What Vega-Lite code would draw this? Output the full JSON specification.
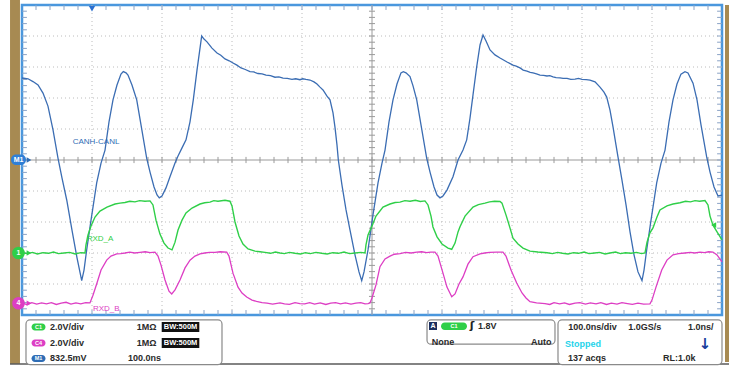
{
  "$schema": "https://vega.github.io/schema/vega-lite/v6.json",
  "width": 700,
  "height": 310,
  "autosize": {"type": "none"},
  "padding": {"left": 22, "top": 5, "right": 18, "bottom": 64},
  "background": "white",
  "config": {"view": {"stroke": "#4a97dd", "strokeWidth": 2.5}, "text": {"font": "Liberation Sans"}},
  "datasets": {
    "frame": [{"t": -17.1, "t2": -2.9, "v": 5.2, "v2": -6.58}, {"t": 1004.3, "t2": 1010, "v": 5.0, "v2": -6.52}],
    "boxes": [{"t": 5.7, "t2": 285.7, "v": -5.16, "v2": -6.6}, {"t": 578.6, "t2": 761.4, "v": -5.16, "v2": -5.94}, {"t": 765.7, "t2": 1000, "v": -5.16, "v2": -6.6}],
    "gridx": [{"t": 100}, {"t": 200}, {"t": 300}, {"t": 400}, {"t": 600}, {"t": 700}, {"t": 800}, {"t": 900}],
    "gridy": [{"v": -4}, {"v": -3}, {"v": -2}, {"v": -1}, {"v": 1}, {"v": 2}, {"v": 3}, {"v": 4}],
    "xt": [{"t":20},{"t":40},{"t":60},{"t":80},{"t":100},{"t":120},{"t":140},{"t":160},{"t":180},{"t":200},{"t":220},{"t":240},{"t":260},{"t":280},{"t":300},{"t":320},{"t":340},{"t":360},{"t":380},{"t":400},{"t":420},{"t":440},{"t":460},{"t":480},{"t":500},{"t":520},{"t":540},{"t":560},{"t":580},{"t":600},{"t":620},{"t":640},{"t":660},{"t":680},{"t":700},{"t":720},{"t":740},{"t":760},{"t":780},{"t":800},{"t":820},{"t":840},{"t":860},{"t":880},{"t":900},{"t":920},{"t":940},{"t":960},{"t":980}],
    "yt": [{"v":-4.8},{"v":-4.6},{"v":-4.4},{"v":-4.2},{"v":-4},{"v":-3.8},{"v":-3.6},{"v":-3.4},{"v":-3.2},{"v":-3},{"v":-2.8},{"v":-2.6},{"v":-2.4},{"v":-2.2},{"v":-2},{"v":-1.8},{"v":-1.6},{"v":-1.4},{"v":-1.2},{"v":-1},{"v":-0.8},{"v":-0.6},{"v":-0.4},{"v":-0.2},{"v":0},{"v":0.2},{"v":0.4},{"v":0.6},{"v":0.8},{"v":1},{"v":1.2},{"v":1.4},{"v":1.6},{"v":1.8},{"v":2},{"v":2.2},{"v":2.4},{"v":2.6},{"v":2.8},{"v":3},{"v":3.2},{"v":3.4},{"v":3.6},{"v":3.8},{"v":4},{"v":4.2},{"v":4.4},{"v":4.6},{"v":4.8}],
    "can": [{"t":0,"v":2.645},{"t":8.6,"v":2.62},{"t":15.7,"v":2.53},{"t":22.9,"v":2.42},{"t":30,"v":2.16},{"t":37.1,"v":1.74},{"t":44.3,"v":0.97},{"t":51.4,"v":0.06},{"t":57.1,"v":-0.58},{"t":63.9,"v":-1.29},{"t":71.4,"v":-2.26},{"t":78.6,"v":-3.16},{"t":85.3,"v":-3.89},{"t":88.6,"v":-3.55},{"t":92.4,"v":-2.9},{"t":98.6,"v":-1.94},{"t":106.7,"v":-0.74},{"t":112.9,"v":-0.1},{"t":118.6,"v":0.32},{"t":124.3,"v":1.23},{"t":130,"v":1.94},{"t":135.7,"v":2.42},{"t":141.4,"v":2.77},{"t":144.7,"v":2.85},{"t":148.6,"v":2.81},{"t":151.4,"v":2.74},{"t":157.1,"v":2.42},{"t":163.9,"v":1.94},{"t":170,"v":1.13},{"t":178.1,"v":0.06},{"t":182.9,"v":-0.39},{"t":188.6,"v":-0.87},{"t":192.9,"v":-1.13},{"t":196.1,"v":-1.22},{"t":200,"v":-1.16},{"t":205.7,"v":-0.9},{"t":211.4,"v":-0.54},{"t":218.6,"v":-0.1},{"t":222.9,"v":0.13},{"t":228.6,"v":0.39},{"t":234.3,"v":0.65},{"t":240,"v":1.23},{"t":244.7,"v":1.94},{"t":250,"v":2.9},{"t":256.7,"v":4.0},{"t":260,"v":3.9},{"t":264.3,"v":3.81},{"t":271.4,"v":3.61},{"t":278.6,"v":3.45},{"t":284,"v":3.38},{"t":290,"v":3.26},{"t":296,"v":3.2},{"t":301.4,"v":3.13},{"t":307,"v":3.06},{"t":312.9,"v":2.97},{"t":319,"v":2.92},{"t":325.7,"v":2.85},{"t":331,"v":2.84},{"t":337.1,"v":2.79},{"t":343,"v":2.78},{"t":348.6,"v":2.74},{"t":355,"v":2.72},{"t":361.4,"v":2.67},{"t":367,"v":2.68},{"t":372.9,"v":2.64},{"t":379,"v":2.63},{"t":385.7,"v":2.6},{"t":391,"v":2.62},{"t":397.1,"v":2.59},{"t":401,"v":2.62},{"t":405.7,"v":2.6},{"t":411.4,"v":2.58},{"t":417.1,"v":2.52},{"t":421.4,"v":2.45},{"t":425.7,"v":2.35},{"t":430,"v":2.26},{"t":435.7,"v":2.06},{"t":440,"v":1.94},{"t":444.3,"v":1.52},{"t":447.1,"v":1.06},{"t":450,"v":0.48},{"t":451.9,"v":0},{"t":457.1,"v":-0.81},{"t":462.9,"v":-1.61},{"t":468.6,"v":-2.26},{"t":475.7,"v":-3.06},{"t":481.4,"v":-3.61},{"t":485.3,"v":-3.89},{"t":488.6,"v":-3.61},{"t":494.3,"v":-2.9},{"t":501.4,"v":-1.77},{"t":508.6,"v":-0.74},{"t":514.3,"v":-0.1},{"t":518.6,"v":0.32},{"t":524.3,"v":1.23},{"t":530,"v":1.94},{"t":535.7,"v":2.45},{"t":541.4,"v":2.81},{"t":544.7,"v":2.85},{"t":548.6,"v":2.81},{"t":554.3,"v":2.69},{"t":558.6,"v":2.39},{"t":563.9,"v":1.94},{"t":570,"v":1.13},{"t":578.1,"v":0.06},{"t":582.9,"v":-0.39},{"t":588.6,"v":-0.87},{"t":592.9,"v":-1.13},{"t":597.1,"v":-1.22},{"t":601.4,"v":-1.16},{"t":607.1,"v":-0.97},{"t":615.7,"v":-0.54},{"t":622.9,"v":0},{"t":630,"v":0.32},{"t":635.3,"v":0.65},{"t":640,"v":1.35},{"t":644.3,"v":2.1},{"t":649.6,"v":3.01},{"t":654.3,"v":3.71},{"t":658.6,"v":4.03},{"t":662.9,"v":3.84},{"t":668.6,"v":3.55},{"t":675.7,"v":3.39},{"t":682.9,"v":3.29},{"t":692.9,"v":3.16},{"t":701.4,"v":3.06},{"t":706,"v":3.03},{"t":711.4,"v":2.97},{"t":716,"v":2.9},{"t":721.4,"v":2.87},{"t":726,"v":2.83},{"t":730,"v":2.81},{"t":735,"v":2.78},{"t":740,"v":2.74},{"t":745,"v":2.73},{"t":750,"v":2.71},{"t":754,"v":2.72},{"t":758.6,"v":2.68},{"t":763,"v":2.66},{"t":768.6,"v":2.65},{"t":773,"v":2.63},{"t":778.6,"v":2.63},{"t":784,"v":2.6},{"t":790,"v":2.61},{"t":795,"v":2.63},{"t":800,"v":2.6},{"t":806,"v":2.59},{"t":811.4,"v":2.58},{"t":818.6,"v":2.52},{"t":825.7,"v":2.35},{"t":831.4,"v":2.19},{"t":835.3,"v":2.03},{"t":840,"v":1.61},{"t":844.3,"v":1.07},{"t":848.6,"v":0.48},{"t":851.4,"v":0.1},{"t":857.1,"v":-0.65},{"t":862.9,"v":-1.45},{"t":868.6,"v":-2.32},{"t":874.3,"v":-3.06},{"t":880,"v":-3.61},{"t":885.7,"v":-3.89},{"t":888.6,"v":-3.55},{"t":892.4,"v":-2.9},{"t":898.6,"v":-1.94},{"t":906.7,"v":-0.74},{"t":912.9,"v":-0.1},{"t":918.6,"v":0.32},{"t":924.3,"v":1.23},{"t":930,"v":1.94},{"t":935.7,"v":2.45},{"t":941.4,"v":2.77},{"t":947.1,"v":2.85},{"t":951.4,"v":2.81},{"t":958.6,"v":2.48},{"t":964.3,"v":1.94},{"t":970,"v":1.13},{"t":978.1,"v":0.1},{"t":982.9,"v":-0.39},{"t":988.6,"v":-0.87},{"t":994.3,"v":-1.16},{"t":1000,"v":-1.13}],
    "rxa": [{"t":0,"v":-2.99},{"t":8,"v":-3.02},{"t":15,"v":-2.98},{"t":22,"v":-3.03},{"t":30,"v":-2.99},{"t":38,"v":-3.01},{"t":45,"v":-2.97},{"t":52,"v":-3.02},{"t":60,"v":-3.0},{"t":68,"v":-2.98},{"t":76,"v":-3.03},{"t":84,"v":-2.99},{"t":90,"v":-3.0},{"t":91.4,"v":-2.74},{"t":94.3,"v":-2.42},{"t":98.6,"v":-2.13},{"t":104.3,"v":-1.84},{"t":111.4,"v":-1.65},{"t":121.4,"v":-1.52},{"t":132.9,"v":-1.42},{"t":140,"v":-1.39},{"t":147.1,"v":-1.37},{"t":154,"v":-1.33},{"t":161.4,"v":-1.35},{"t":168,"v":-1.31},{"t":175.7,"v":-1.33},{"t":182.9,"v":-1.32},{"t":187.1,"v":-1.45},{"t":191.4,"v":-1.94},{"t":197.1,"v":-2.39},{"t":202.9,"v":-2.68},{"t":208.6,"v":-2.84},{"t":214.3,"v":-2.9},{"t":218.6,"v":-2.65},{"t":222.9,"v":-2.26},{"t":228.6,"v":-1.94},{"t":234.3,"v":-1.71},{"t":242.9,"v":-1.55},{"t":254.3,"v":-1.42},{"t":261,"v":-1.38},{"t":268.6,"v":-1.36},{"t":274,"v":-1.31},{"t":280,"v":-1.33},{"t":290,"v":-1.3},{"t":297.1,"v":-1.33},{"t":300,"v":-1.48},{"t":304.3,"v":-2.0},{"t":310,"v":-2.45},{"t":315.7,"v":-2.71},{"t":322.9,"v":-2.87},{"t":332.9,"v":-2.94},{"t":340,"v":-2.96},{"t":347.1,"v":-2.98},{"t":355,"v":-3.01},{"t":362,"v":-2.97},{"t":368.6,"v":-3.0},{"t":375,"v":-3.02},{"t":382,"v":-2.98},{"t":390,"v":-3.01},{"t":398,"v":-3.03},{"t":405,"v":-2.99},{"t":412,"v":-3.02},{"t":420,"v":-2.98},{"t":428,"v":-3.01},{"t":436,"v":-3.03},{"t":444,"v":-2.99},{"t":452,"v":-3.01},{"t":460,"v":-2.97},{"t":468,"v":-3.02},{"t":476,"v":-3.0},{"t":484,"v":-2.98},{"t":490,"v":-3.0},{"t":491.4,"v":-2.74},{"t":494.3,"v":-2.42},{"t":499.6,"v":-2.15},{"t":505.7,"v":-1.81},{"t":515.7,"v":-1.52},{"t":525.7,"v":-1.42},{"t":533,"v":-1.37},{"t":540,"v":-1.36},{"t":547,"v":-1.31},{"t":554.3,"v":-1.33},{"t":562,"v":-1.3},{"t":569,"v":-1.34},{"t":575.7,"v":-1.32},{"t":580,"v":-1.45},{"t":584.3,"v":-1.81},{"t":587.1,"v":-2.16},{"t":592.9,"v":-2.48},{"t":600,"v":-2.71},{"t":608.6,"v":-2.84},{"t":613.9,"v":-2.88},{"t":618.6,"v":-2.68},{"t":622.9,"v":-2.32},{"t":625.7,"v":-2.15},{"t":632.9,"v":-1.81},{"t":644.3,"v":-1.52},{"t":652,"v":-1.44},{"t":661.4,"v":-1.39},{"t":668,"v":-1.35},{"t":675,"v":-1.33},{"t":682.9,"v":-1.34},{"t":685.7,"v":-1.39},{"t":691.4,"v":-1.77},{"t":697.1,"v":-2.19},{"t":701.4,"v":-2.52},{"t":708.6,"v":-2.71},{"t":715.7,"v":-2.84},{"t":725.7,"v":-2.94},{"t":737,"v":-2.97},{"t":750,"v":-2.99},{"t":758,"v":-3.02},{"t":765,"v":-2.98},{"t":772,"v":-3.01},{"t":780,"v":-3.03},{"t":788,"v":-2.99},{"t":795,"v":-3.01},{"t":803,"v":-2.97},{"t":810,"v":-3.02},{"t":818,"v":-3.0},{"t":825,"v":-2.98},{"t":833,"v":-3.03},{"t":840,"v":-3.0},{"t":848,"v":-2.97},{"t":855,"v":-3.02},{"t":862,"v":-2.99},{"t":870,"v":-3.01},{"t":878,"v":-2.98},{"t":885,"v":-3.02},{"t":890,"v":-3.0},{"t":892.9,"v":-2.65},{"t":897.1,"v":-2.35},{"t":901.4,"v":-2.19},{"t":907.1,"v":-1.84},{"t":911.4,"v":-1.61},{"t":921.4,"v":-1.48},{"t":930,"v":-1.42},{"t":940,"v":-1.38},{"t":948,"v":-1.33},{"t":955,"v":-1.35},{"t":961.4,"v":-1.31},{"t":968,"v":-1.33},{"t":975.7,"v":-1.31},{"t":980,"v":-1.45},{"t":982.9,"v":-1.81},{"t":987.1,"v":-2.1},{"t":992.9,"v":-2.32},{"t":1000,"v":-2.58}],
    "rxb": [{"t":0,"v":-4.62},{"t":7,"v":-4.66},{"t":14,"v":-4.6},{"t":21,"v":-4.65},{"t":28,"v":-4.61},{"t":35,"v":-4.64},{"t":42,"v":-4.6},{"t":49,"v":-4.66},{"t":56,"v":-4.62},{"t":63,"v":-4.59},{"t":70,"v":-4.65},{"t":77,"v":-4.61},{"t":84,"v":-4.64},{"t":91,"v":-4.6},{"t":97.1,"v":-4.61},{"t":101.4,"v":-4.36},{"t":107.1,"v":-3.97},{"t":112.9,"v":-3.55},{"t":121,"v":-3.23},{"t":127.1,"v":-3.1},{"t":135.3,"v":-3.03},{"t":141,"v":-3.02},{"t":147.1,"v":-3.0},{"t":154,"v":-2.97},{"t":161,"v":-3.0},{"t":168.6,"v":-2.98},{"t":176,"v":-2.96},{"t":183,"v":-2.99},{"t":190,"v":-2.97},{"t":194.3,"v":-3.1},{"t":198.6,"v":-3.39},{"t":204.3,"v":-3.87},{"t":210,"v":-4.23},{"t":213.9,"v":-4.32},{"t":218.6,"v":-4.19},{"t":225.7,"v":-3.87},{"t":232.9,"v":-3.48},{"t":240,"v":-3.23},{"t":247.1,"v":-3.1},{"t":254.3,"v":-3.03},{"t":261,"v":-3.0},{"t":268,"v":-2.98},{"t":275.7,"v":-2.98},{"t":283,"v":-2.96},{"t":292.4,"v":-2.97},{"t":295.7,"v":-3.1},{"t":301.4,"v":-3.65},{"t":308.6,"v":-4.1},{"t":314.3,"v":-4.29},{"t":321,"v":-4.42},{"t":328.6,"v":-4.52},{"t":335,"v":-4.56},{"t":342.9,"v":-4.6},{"t":350,"v":-4.62},{"t":358,"v":-4.65},{"t":368.6,"v":-4.61},{"t":375,"v":-4.64},{"t":382,"v":-4.66},{"t":390,"v":-4.6},{"t":397,"v":-4.63},{"t":404,"v":-4.64},{"t":411,"v":-4.6},{"t":418,"v":-4.65},{"t":426,"v":-4.61},{"t":434,"v":-4.66},{"t":441,"v":-4.62},{"t":448,"v":-4.6},{"t":455,"v":-4.64},{"t":462,"v":-4.61},{"t":470,"v":-4.65},{"t":477,"v":-4.62},{"t":484,"v":-4.6},{"t":490,"v":-4.64},{"t":494.3,"v":-4.63},{"t":497.1,"v":-4.61},{"t":500,"v":-4.45},{"t":505.7,"v":-4.03},{"t":511.4,"v":-3.44},{"t":518.6,"v":-3.19},{"t":525.7,"v":-3.1},{"t":532,"v":-3.04},{"t":540,"v":-3.02},{"t":548,"v":-2.98},{"t":556,"v":-3.0},{"t":563.9,"v":-2.97},{"t":571,"v":-2.96},{"t":578,"v":-2.99},{"t":584,"v":-2.97},{"t":590,"v":-2.97},{"t":594.3,"v":-3.1},{"t":601.4,"v":-3.65},{"t":607.1,"v":-4.1},{"t":613.9,"v":-4.41},{"t":618.6,"v":-4.32},{"t":624.3,"v":-4.0},{"t":630,"v":-3.77},{"t":637.1,"v":-3.36},{"t":644.3,"v":-3.12},{"t":654.3,"v":-3.03},{"t":661,"v":-3.0},{"t":668,"v":-2.98},{"t":678.1,"v":-2.97},{"t":687.1,"v":-2.97},{"t":691.4,"v":-3.1},{"t":698.6,"v":-3.55},{"t":706.7,"v":-3.97},{"t":714.3,"v":-4.29},{"t":720,"v":-4.45},{"t":725.7,"v":-4.57},{"t":735,"v":-4.61},{"t":747.1,"v":-4.63},{"t":754,"v":-4.66},{"t":760,"v":-4.6},{"t":768,"v":-4.64},{"t":775,"v":-4.61},{"t":782,"v":-4.66},{"t":790,"v":-4.62},{"t":797,"v":-4.6},{"t":805,"v":-4.65},{"t":812,"v":-4.61},{"t":820,"v":-4.64},{"t":827,"v":-4.6},{"t":835,"v":-4.66},{"t":842,"v":-4.62},{"t":850,"v":-4.65},{"t":857,"v":-4.6},{"t":865,"v":-4.63},{"t":872,"v":-4.66},{"t":880,"v":-4.62},{"t":888,"v":-4.65},{"t":897.1,"v":-4.64},{"t":900,"v":-4.52},{"t":905.7,"v":-4.1},{"t":913.9,"v":-3.55},{"t":921.4,"v":-3.23},{"t":930,"v":-3.06},{"t":938,"v":-3.02},{"t":947.1,"v":-3.0},{"t":955,"v":-2.98},{"t":961,"v":-3.0},{"t":968.6,"v":-2.97},{"t":975,"v":-2.99},{"t":981,"v":-2.96},{"t":987.1,"v":-2.97},{"t":992.9,"v":-3.06},{"t":1000,"v":-3.29}],
    "infotext": [
      {"t": 40, "v": -5.387, "text": "2.0V/div"},
      {"t": 164, "v": -5.387, "text": "1MΩ"},
      {"t": 40, "v": -5.903, "text": "2.0V/div"},
      {"t": 164, "v": -5.903, "text": "1MΩ"},
      {"t": 40, "v": -6.403, "text": "832.5mV"},
      {"t": 151.4, "v": -6.403, "text": "100.0ns"},
      {"t": 651.4, "v": -5.355, "text": "1.8V"},
      {"t": 585.3, "v": -5.871, "text": "None"},
      {"t": 727, "v": -5.871, "text": "Auto"},
      {"t": 780.4, "v": -5.387, "text": "100.0ns/div"},
      {"t": 866.1, "v": -5.387, "text": "1.0GS/s"},
      {"t": 951.4, "v": -5.387, "text": "1.0ns/"},
      {"t": 780, "v": -6.403, "text": "137 acqs"},
      {"t": 915.7, "v": -6.403, "text": "RL:1.0k"}
    ],
    "pills": [
      {"t": 13.6, "t2": 33.6, "v": -5.274, "v2": -5.5, "c": "C1", "ch": "RXD_A"},
      {"t": 13.6, "t2": 33.6, "v": -5.79, "v2": -6.016, "c": "C4", "ch": "RXD_B"},
      {"t": 13.6, "t2": 33.6, "v": -6.29, "v2": -6.516, "c": "M1", "ch": "CANH-CANL"},
      {"t": 598.6, "t2": 635.7, "v": -5.242, "v2": -5.484, "c": "C1", "ch": "RXD_A"}
    ],
    "bw": [{"t": 199.6, "t2": 253.3, "v": -5.226, "v2": -5.548, "w": -5.387}, {"t": 199.6, "t2": 253.3, "v": -5.742, "v2": -6.065, "w": -5.903}],
    "labels": [
      {"t": 72.4, "v": 0.59, "text": "CANH-CANL", "ch": "CANH-CANL"},
      {"t": 92.4, "v": -2.56, "text": "RXD_A", "ch": "RXD_A"},
      {"t": 101.4, "v": -4.82, "text": "RXD_B", "ch": "RXD_B"}
    ],
    "refs": [
      {"t": -5, "v": -3.0, "text": "1", "ch": "RXD_A"},
      {"t": -5, "v": -4.62, "text": "4", "ch": "RXD_B"}
    ],
    "arrows": [
      {"t": 10, "v": 0, "ch": "CANH-CANL"},
      {"t": 10, "v": -3.0, "ch": "RXD_A"},
      {"t": 10, "v": -4.62, "ch": "RXD_B"}
    ]
  },
  "layer": [
    {
      "data": {"name": "frame"},
      "mark": {"type": "rect", "color": "#a78a52"},
      "encoding": {
        "x": {"field": "t", "type": "quantitative", "scale": {"domain": [0, 1000], "nice": false, "zero": false}, "axis": null},
        "x2": {"field": "t2"},
        "y": {"field": "v", "type": "quantitative", "scale": {"domain": [-5, 5], "nice": false, "zero": false}, "axis": null},
        "y2": {"field": "v2"}
      }
    },
    {
      "data": {"values": [{"t": -17.1, "t2": 1010, "v": -6.58}]},
      "mark": {"type": "rule", "color": "#5a5a5a", "strokeWidth": 1.5},
      "encoding": {"x": {"field": "t", "type": "quantitative"}, "x2": {"field": "t2"}, "y": {"field": "v", "type": "quantitative"}}
    },
    {
      "data": {"name": "boxes"},
      "mark": {"type": "rect", "fill": "white", "stroke": "#8a8a8a", "strokeWidth": 1.2, "cornerRadius": 4},
      "encoding": {"x": {"field": "t", "type": "quantitative"}, "x2": {"field": "t2"}, "y": {"field": "v", "type": "quantitative"}, "y2": {"field": "v2"}}
    },
    {
      "data": {"name": "gridx"},
      "mark": {"type": "rule", "color": "#bcbcbc", "strokeWidth": 1, "strokeDash": [1, 3]},
      "encoding": {"x": {"field": "t", "type": "quantitative"}}
    },
    {
      "data": {"name": "gridy"},
      "mark": {"type": "rule", "color": "#bcbcbc", "strokeWidth": 1, "strokeDash": [1, 3]},
      "encoding": {"y": {"field": "v", "type": "quantitative"}}
    },
    {
      "data": {"values": [{"t": 500}]},
      "mark": {"type": "rule", "color": "#9a9a9a", "strokeWidth": 1},
      "encoding": {"x": {"field": "t", "type": "quantitative"}}
    },
    {
      "data": {"values": [{"v": 0}]},
      "mark": {"type": "rule", "color": "#9a9a9a", "strokeWidth": 1},
      "encoding": {"y": {"field": "v", "type": "quantitative"}}
    },
    {
      "data": {"name": "xt"},
      "mark": {"type": "rule", "color": "#8aa3c6", "strokeWidth": 1},
      "encoding": {"x": {"field": "t", "type": "quantitative"}, "y": {"datum": 5}, "y2": {"datum": 4.84}}
    },
    {
      "data": {"name": "xt"},
      "mark": {"type": "rule", "color": "#8aa3c6", "strokeWidth": 1},
      "encoding": {"x": {"field": "t", "type": "quantitative"}, "y": {"datum": -5}, "y2": {"datum": -4.84}}
    },
    {
      "data": {"name": "xt"},
      "mark": {"type": "rule", "color": "#9a9a9a", "strokeWidth": 1},
      "encoding": {"x": {"field": "t", "type": "quantitative"}, "y": {"datum": -0.1}, "y2": {"datum": 0.1}}
    },
    {
      "data": {"name": "yt"},
      "mark": {"type": "rule", "color": "#8aa3c6", "strokeWidth": 1},
      "encoding": {"y": {"field": "v", "type": "quantitative"}, "x": {"datum": 0}, "x2": {"datum": 7}}
    },
    {
      "data": {"name": "yt"},
      "mark": {"type": "rule", "color": "#8aa3c6", "strokeWidth": 1},
      "encoding": {"y": {"field": "v", "type": "quantitative"}, "x": {"datum": 993}, "x2": {"datum": 1000}}
    },
    {
      "data": {"name": "yt"},
      "mark": {"type": "rule", "color": "#9a9a9a", "strokeWidth": 1},
      "encoding": {"y": {"field": "v", "type": "quantitative"}, "x": {"datum": 495.7}, "x2": {"datum": 504.3}}
    },
    {
      "data": {"name": "can"},
      "mark": {"type": "line", "color": "#3b6db3", "strokeWidth": 1.3},
      "encoding": {"x": {"field": "t", "type": "quantitative"}, "y": {"field": "v", "type": "quantitative"}}
    },
    {
      "data": {"name": "rxa"},
      "mark": {"type": "line", "color": "#2fcf48", "strokeWidth": 1.4},
      "encoding": {"x": {"field": "t", "type": "quantitative"}, "y": {"field": "v", "type": "quantitative"}}
    },
    {
      "data": {"name": "rxb"},
      "mark": {"type": "line", "color": "#dd3ec4", "strokeWidth": 1.3},
      "encoding": {"x": {"field": "t", "type": "quantitative"}, "y": {"field": "v", "type": "quantitative"}}
    },
    {
      "data": {"name": "labels"},
      "mark": {"type": "text", "align": "left", "baseline": "middle", "fontSize": 8},
      "encoding": {
        "x": {"field": "t", "type": "quantitative"}, "y": {"field": "v", "type": "quantitative"}, "text": {"field": "text"},
        "color": {"field": "ch", "type": "nominal", "scale": {"domain": ["CANH-CANL", "RXD_A", "RXD_B"], "range": ["#2f6db5", "#2fcf48", "#dd3ec4"]}, "legend": null}
      }
    },
    {
      "data": {"values": [{"t": -15.7, "t2": 5.7, "v": 0.18, "v2": -0.16}]},
      "mark": {"type": "rect", "color": "#2f7fd6", "cornerRadius": 5},
      "encoding": {"x": {"field": "t", "type": "quantitative"}, "x2": {"field": "t2"}, "y": {"field": "v", "type": "quantitative"}, "y2": {"field": "v2"}}
    },
    {
      "data": {"name": "arrows"},
      "mark": {"type": "point", "shape": "triangle-right", "filled": true, "size": 30, "opacity": 1},
      "encoding": {"x": {"field": "t", "type": "quantitative"}, "y": {"field": "v", "type": "quantitative"}, "color": {"field": "ch", "type": "nominal", "legend": null}}
    },
    {
      "data": {"name": "refs"},
      "mark": {"type": "point", "shape": "circle", "filled": true, "size": 160, "opacity": 1},
      "encoding": {"x": {"field": "t", "type": "quantitative"}, "y": {"field": "v", "type": "quantitative"}, "color": {"field": "ch", "type": "nominal", "legend": null}}
    },
    {
      "data": {"values": [{"t": -5, "v": -3.0, "text": "1"}, {"t": -5, "v": -4.62, "text": "4"}, {"t": -5, "v": 0.01, "text": "M1"}]},
      "mark": {"type": "text", "color": "white", "fontSize": 7, "fontWeight": "bold", "align": "center", "baseline": "middle"},
      "encoding": {"x": {"field": "t", "type": "quantitative"}, "y": {"field": "v", "type": "quantitative"}, "text": {"field": "text"}}
    },
    {
      "data": {"values": [{"t": 100, "v": 4.88}]},
      "mark": {"type": "point", "shape": "triangle-down", "filled": true, "size": 40, "color": "#2a6fd0", "opacity": 1},
      "encoding": {"x": {"field": "t", "type": "quantitative"}, "y": {"field": "v", "type": "quantitative"}}
    },
    {
      "data": {"values": [{"t": 988, "v": -2.1}]},
      "mark": {"type": "point", "shape": "triangle-left", "filled": true, "size": 35, "color": "#2fcf48", "opacity": 1},
      "encoding": {"x": {"field": "t", "type": "quantitative"}, "y": {"field": "v", "type": "quantitative"}}
    },
    {
      "data": {"name": "pills"},
      "mark": {"type": "rect", "cornerRadius": 4},
      "encoding": {"x": {"field": "t", "type": "quantitative"}, "x2": {"field": "t2"}, "y": {"field": "v", "type": "quantitative"}, "y2": {"field": "v2"}, "color": {"field": "ch", "type": "nominal", "legend": null}}
    },
    {
      "data": {"name": "pills"},
      "transform": [{"calculate": "(datum.t + datum.t2) / 2", "as": "tc"}, {"calculate": "(datum.v + datum.v2) / 2", "as": "vc"}],
      "mark": {"type": "text", "color": "white", "fontSize": 5.5, "fontWeight": "bold", "align": "center", "baseline": "middle"},
      "encoding": {"x": {"field": "tc", "type": "quantitative"}, "y": {"field": "vc", "type": "quantitative"}, "text": {"field": "c"}}
    },
    {
      "data": {"name": "bw"},
      "mark": {"type": "rect", "color": "#111111"},
      "encoding": {"x": {"field": "t", "type": "quantitative"}, "x2": {"field": "t2"}, "y": {"field": "v", "type": "quantitative"}, "y2": {"field": "v2"}}
    },
    {
      "data": {"name": "bw"},
      "mark": {"type": "text", "color": "white", "fontSize": 7.5, "fontWeight": "bold", "align": "left", "baseline": "middle", "dx": 2},
      "encoding": {"x": {"field": "t", "type": "quantitative"}, "y": {"field": "w", "type": "quantitative"}, "text": {"value": "BW:500M"}}
    },
    {
      "data": {"values": [{"t": 581.4, "t2": 592.9, "v": -5.226, "v2": -5.484}]},
      "mark": {"type": "rect", "color": "#1c2f5e"},
      "encoding": {"x": {"field": "t", "type": "quantitative"}, "x2": {"field": "t2"}, "y": {"field": "v", "type": "quantitative"}, "y2": {"field": "v2"}}
    },
    {
      "data": {"values": [{"t": 587.1, "v": -5.355, "text": "A"}]},
      "mark": {"type": "text", "color": "white", "fontSize": 7, "fontWeight": "bold", "align": "center", "baseline": "middle"},
      "encoding": {"x": {"field": "t", "type": "quantitative"}, "y": {"field": "v", "type": "quantitative"}, "text": {"field": "text"}}
    },
    {
      "data": {"values": [{"t": 642.9, "v": -5.355, "text": "ʃ"}]},
      "mark": {"type": "text", "color": "#222222", "fontSize": 11, "fontWeight": "bold", "align": "center", "baseline": "middle", "font": "DejaVu Sans"},
      "encoding": {"x": {"field": "t", "type": "quantitative"}, "y": {"field": "v", "type": "quantitative"}, "text": {"field": "text"}}
    },
    {
      "data": {"name": "infotext"},
      "mark": {"type": "text", "color": "#2a2a2a", "fontSize": 9, "fontWeight": "bold", "align": "left", "baseline": "middle"},
      "encoding": {"x": {"field": "t", "type": "quantitative"}, "y": {"field": "v", "type": "quantitative"}, "text": {"field": "text"}}
    },
    {
      "data": {"values": [{"t": 775.7, "v": -5.935, "text": "Stopped"}]},
      "mark": {"type": "text", "color": "#1fd3ea", "fontSize": 9, "fontWeight": "bold", "align": "left", "baseline": "middle"},
      "encoding": {"x": {"field": "t", "type": "quantitative"}, "y": {"field": "v", "type": "quantitative"}, "text": {"field": "text"}}
    },
    {
      "data": {"values": [{"t": 975.7, "v": -5.935, "text": "↓"}]},
      "mark": {"type": "text", "color": "#1a3f9c", "fontSize": 15, "fontWeight": "bold", "align": "center", "baseline": "middle", "font": "DejaVu Sans"},
      "encoding": {"x": {"field": "t", "type": "quantitative"}, "y": {"field": "v", "type": "quantitative"}, "text": {"field": "text"}}
    }
  ]
}
